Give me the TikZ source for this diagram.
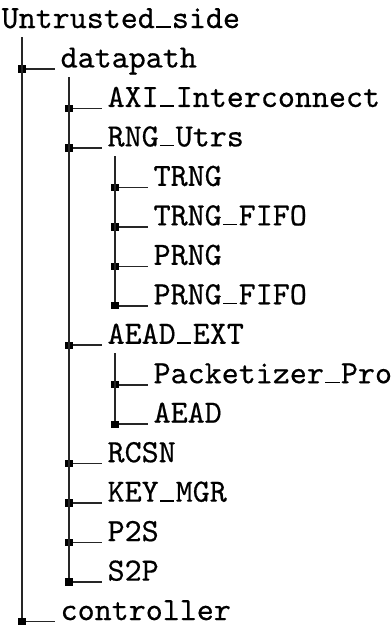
\documentclass[tikz,border=0pt]{standalone}
\usepackage{fontspec}
\setmonofont{Latin Modern Mono}[FakeBold=0.45]
% underscore sitting on the baseline, as in the listing
\newcommand{\us}{\makebox[0.525em][c]{\rule{0.44em}{0.05em}}}
\begin{document}
\begin{tikzpicture}[
  x=0.3145pt, y=-0.3145pt,
  lbl/.style={anchor=base west, inner sep=0pt, font=\fontsize{10.2}{12}\selectfont\ttfamily},
  tree/.style={draw=black!85, line width=0.5pt},
  sq/.style={rectangle, fill=black, inner sep=0pt, minimum size=2.3pt}
]
\useasboundingbox (0,0) rectangle (392,625);
% labels, one row every 39.47px
\node[lbl] (root) at (1,28) {Untrusted\us side};
\node[lbl] (dp) at (60,67.47) {datapath};
\node[lbl] (axi) at (107,106.94) {AXI\us Interconnect};
\node[lbl] (rng) at (107,146.41) {RNG\us Utrs};
\node[lbl] (trng) at (153,185.88) {TRNG};
\node[lbl] (trngf) at (153,225.35) {TRNG\us FIFO};
\node[lbl] (prng) at (153,264.82) {PRNG};
\node[lbl] (prngf) at (153,304.29) {PRNG\us FIFO};
\node[lbl] (aeadx) at (107,343.76) {AEAD\us EXT};
\node[lbl] (pkt) at (153,383.23) {Packetizer\us Pro};
\node[lbl] (aead) at (153,422.7) {AEAD};
\node[lbl] (rcsn) at (107,462.17) {RCSN};
\node[lbl] (key) at (107,501.64) {KEY\us MGR};
\node[lbl] (ptos) at (107,541.11) {P2S};
\node[lbl] (stop) at (107,580.58) {S2P};
\node[lbl] (ctrl) at (60,620.05) {controller};

% tops of the vertical rails
\coordinate (root-v) at (22,37);
\coordinate (dp-v) at (69,77);
\coordinate (rng-v) at (115,156);
\coordinate (aeadx-v) at (115,353);

\draw[tree] (root-v) |- ([shift={(-5,1.5)}]dp.base west) node[pos=.5,sq]{};
\draw[tree] (root-v) |- ([shift={(-5,1.5)}]ctrl.base west) node[pos=.5,sq]{};
\draw[tree] (dp-v) |- ([shift={(-5,1.5)}]axi.base west) node[pos=.5,sq]{};
\draw[tree] (dp-v) |- ([shift={(-5,1.5)}]rng.base west) node[pos=.5,sq]{};
\draw[tree] (dp-v) |- ([shift={(-5,1.5)}]aeadx.base west) node[pos=.5,sq]{};
\draw[tree] (dp-v) |- ([shift={(-5,1.5)}]rcsn.base west) node[pos=.5,sq]{};
\draw[tree] (dp-v) |- ([shift={(-5,1.5)}]key.base west) node[pos=.5,sq]{};
\draw[tree] (dp-v) |- ([shift={(-5,1.5)}]ptos.base west) node[pos=.5,sq]{};
\draw[tree] (dp-v) |- ([shift={(-5,1.5)}]stop.base west) node[pos=.5,sq]{};
\draw[tree] (rng-v) |- ([shift={(-5,1.5)}]trng.base west) node[pos=.5,sq]{};
\draw[tree] (rng-v) |- ([shift={(-5,1.5)}]trngf.base west) node[pos=.5,sq]{};
\draw[tree] (rng-v) |- ([shift={(-5,1.5)}]prng.base west) node[pos=.5,sq]{};
\draw[tree] (rng-v) |- ([shift={(-5,1.5)}]prngf.base west) node[pos=.5,sq]{};
\draw[tree] (aeadx-v) |- ([shift={(-5,1.5)}]pkt.base west) node[pos=.5,sq]{};
\draw[tree] (aeadx-v) |- ([shift={(-5,1.5)}]aead.base west) node[pos=.5,sq]{};
\end{tikzpicture}
\end{document}
